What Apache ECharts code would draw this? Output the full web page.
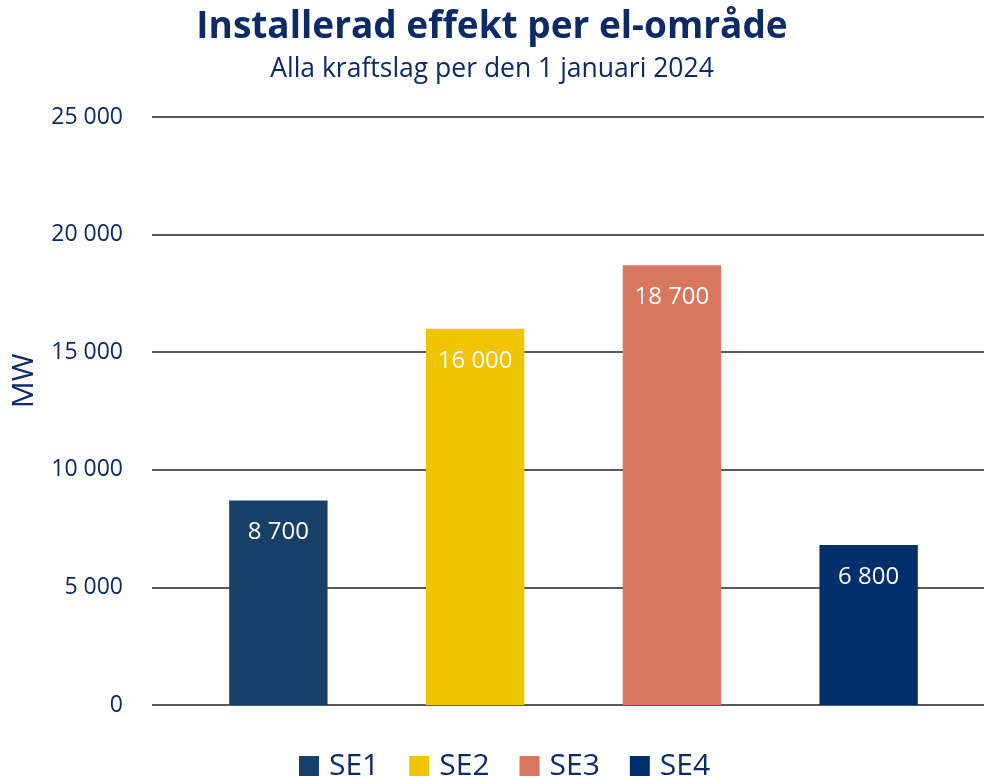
<!DOCTYPE html>
<html>
<head>
  <meta charset="utf-8">
  <title>Installerad effekt</title>
  <script src="https://cdn.jsdelivr.net/npm/echarts@6/dist/echarts.min.js"></script>
  <style>
    html, body { margin: 0; padding: 0; background: #fff; }
    #main { width: 984px; height: 777px; }
  </style>
</head>
<body>
  <div id="main"></div>
  <script type="text/javascript">
    // data
    var categories = ['SE1', 'SE2', 'SE3', 'SE4'];
    var values = [8700, 16000, 18700, 6800];
    var colors = ['#164067', '#f0c400', '#d9775e', '#002f6c'];
    var yTicks = [0, 5000, 10000, 15000, 20000, 25000];

    var navy = '#0b2a66';
    var font = 'Open Sans';

    function fmt(v) {
      return String(v).replace(/\B(?=(\d{3})+(?!\d))/g, ' ');
    }

    var myChart = echarts.init(document.getElementById('main'));

    // one series per område so the legend gets one entry each
    var series = categories.map(function (name, i) {
      return {
        name: name,
        type: 'bar',
        stack: 'all',
        xAxisIndex: 1,
        yAxisIndex: 1,
        barWidth: '50%',
        itemStyle: { color: colors[i] },
        label: {
          show: true,
          position: 'insideTop',
          distance: 20,
          color: '#fff',
          fontFamily: font,
          fontSize: 24,
          formatter: function (p) { return fmt(p.value); }
        },
        data: categories.map(function (c, j) { return j === i ? values[i] : '-'; })
      };
    });

    var option = {
      animation: false,
      title: [{
        text: 'Installerad effekt per el-område',
        left: 'center',
        top: 4,
        textStyle: { color: navy, fontFamily: font, fontWeight: 'bold', fontSize: 37 }
      }, {
        text: 'Alla kraftslag per den 1 januari 2024',
        left: 'center',
        top: 51,
        textStyle: { color: navy, fontFamily: font, fontWeight: 'normal', fontSize: 26.5 }
      }],
      legend: {
        bottom: -9,
        left: 294,
        icon: 'rect',
        itemWidth: 20,
        itemHeight: 20,
        itemGap: 30,
        textStyle: { color: navy, fontFamily: font, fontSize: 30, padding: [0, 0, 0, 5] },
        data: categories
      },
      grid: [
        { left: 152, right: 0, top: 117, bottom: 72 },
        { left: 180, right: 17, top: 117, bottom: 72 }
      ],
      xAxis: [
        { type: 'category', gridIndex: 0, data: categories, show: false },
        { type: 'category', gridIndex: 1, data: categories, show: false }
      ],
      yAxis: [{
        type: 'value',
        gridIndex: 0,
        min: yTicks[0],
        max: yTicks[yTicks.length - 1],
        interval: 5000,
        name: 'MW',
        nameLocation: 'middle',
        nameGap: 113,
        nameTextStyle: { color: navy, fontFamily: font, fontSize: 30, padding: [0, 0, 0, 60] },
        axisLine: { show: false },
        axisTick: { show: false },
        axisLabel: {
          color: navy,
          fontFamily: font,
          fontSize: 23,
          margin: 29,
          formatter: function (v) { return fmt(v); }
        },
        splitLine: { lineStyle: { color: '#222', width: 1.5 } }
      }, {
        type: 'value',
        gridIndex: 1,
        min: yTicks[0],
        max: yTicks[yTicks.length - 1],
        interval: 5000,
        show: false,
        splitLine: { show: false }
      }],
      series: series
    };

    myChart.setOption(option);
  </script>
</body>
</html>
